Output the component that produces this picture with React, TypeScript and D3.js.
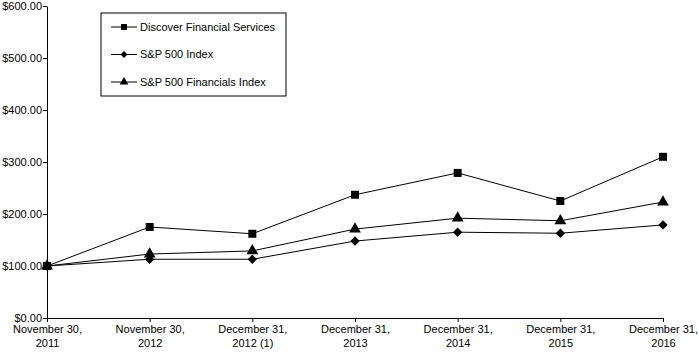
import React, { useEffect, useRef } from 'react';
import * as d3 from 'd3';

const categories = [
  ['November 30,', '2011'],
  ['November 30,', '2012'],
  ['December 31,', '2012 (1)'],
  ['December 31,', '2013'],
  ['December 31,', '2014'],
  ['December 31,', '2015'],
  ['December 31,', '2016'],
];
const discover = [100, 175, 162, 237, 279, 225, 310];
const sp500 = [100, 113, 113, 148, 165, 163, 179];
const financials = [100, 123, 129, 171, 192, 187, 223];
const yTicks = [0, 100, 200, 300, 400, 500, 600];

const series = [
  { name: 'Discover Financial Services', values: discover, symbol: d3.symbolSquare, size: 64, rotate: 0 },
  { name: 'S&P 500 Index', values: sp500, symbol: d3.symbolSquare, size: 44, rotate: 45 },
  { name: 'S&P 500 Financials Index', values: financials, symbol: d3.symbolTriangle, size: 60, rotate: 0 },
];

export default function App() {
  const svgRef = useRef<SVGSVGElement>(null);

  useEffect(() => {
    if (!svgRef.current) return;
    const svg = d3.select(svgRef.current);
    svg.selectAll('*').remove();

    const width = 699;
    const height = 354;
    const margin = { top: 6, right: 36, bottom: 36, left: 47 };
    const font = 'Liberation Sans, Arial, sans-serif';
    const fs = '11px';

    const x = d3.scalePoint<number>()
      .domain(d3.range(categories.length))
      .range([margin.left, width - margin.right]);
    const y = d3.scaleLinear()
      .domain([0, 600])
      .range([height - margin.bottom, margin.top]);

    const g = svg.append('g');

    // Y axis
    g.append('g')
      .attr('transform', `translate(${margin.left},0)`)
      .call(d3.axisLeft(y).tickValues(yTicks).tickSize(4).tickSizeOuter(0)
        .tickFormat(d => `$${(+d).toFixed(2)}`))
      .call(a => a.select('.domain').attr('stroke', '#000'))
      .call(a => a.selectAll('.tick line').attr('stroke', '#000'))
      .call(a => a.selectAll('.tick text')
        .attr('fill', '#000').attr('font-family', font).attr('font-size', fs).attr('x', -5));

    // X axis
    const xAxis = g.append('g')
      .attr('transform', `translate(0,${height - margin.bottom})`)
      .call(d3.axisBottom(x).tickSize(4).tickSizeOuter(0).tickFormat(() => ''))
      .call(a => a.select('.domain').attr('stroke', '#000'))
      .call(a => a.selectAll('.tick line').attr('stroke', '#000'));
    xAxis.selectAll<SVGGElement, number>('.tick').each(function (d) {
      const t = d3.select(this).select('text')
        .attr('fill', '#000').attr('font-family', font).attr('font-size', fs)
        .attr('y', 7).attr('dy', 0);
      categories[d].forEach((line, i) => {
        t.append('tspan').attr('x', 0).attr('dy', i === 0 ? '0.71em' : '1.3em').text(line);
      });
    });

    // Lines and markers
    const line = d3.line<number>().x((_, i) => x(i)!).y(v => y(v));
    series.forEach(s => {
      g.append('path')
        .datum(s.values)
        .attr('fill', 'none')
        .attr('stroke', '#000')
        .attr('stroke-width', 1)
        .attr('d', line);
      g.selectAll(null)
        .data(s.values)
        .enter()
        .append('path')
        .attr('d', d3.symbol().type(s.symbol).size(s.size)())
        .attr('transform', (v, i) => `translate(${x(i)},${y(v)}) rotate(${s.rotate})`)
        .attr('fill', '#000');
    });

    // Legend
    const lg = g.append('g').attr('transform', 'translate(101,13)');
    lg.append('rect')
      .attr('width', 185).attr('height', 83)
      .attr('fill', '#fff').attr('stroke', '#000');
    series.forEach((s, i) => {
      const row = lg.append('g').attr('transform', `translate(0,${14 + i * 27.5})`);
      row.append('line').attr('x1', 10).attr('x2', 36).attr('stroke', '#000');
      row.append('path')
        .attr('d', d3.symbol().type(s.symbol).size(s.size * 0.55)())
        .attr('transform', `translate(23,0) rotate(${s.rotate})`)
        .attr('fill', '#000');
      row.append('text')
        .attr('x', 39).attr('dy', '0.35em')
        .attr('font-family', font).attr('font-size', fs)
        .text(s.name);
    });
  }, []);

  return <svg ref={svgRef} width={699} height={354} style={{ display: 'block', position: 'absolute', left: 0, top: 0 }} />;
}
